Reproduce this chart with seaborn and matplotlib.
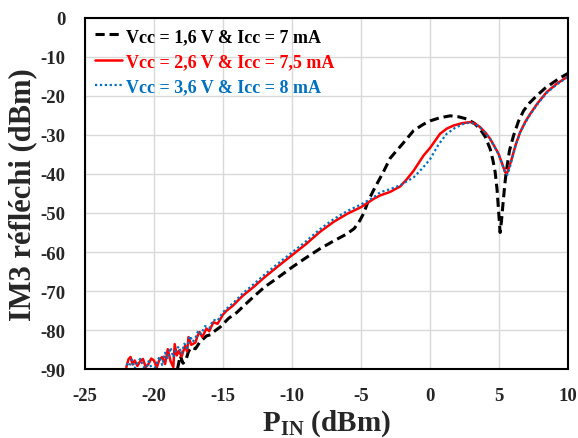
import numpy as np
import pandas as pd
import seaborn as sns
import matplotlib
matplotlib.use("Agg")
import matplotlib.pyplot as plt

# Data
x_16 = [-18.3, -18.1, -17.9, -17.7, -17.5, -17.3, -17.0, -16.7, -16.5, -16.2, -15.9, -15.7,
        -15.2, -15.0, -14.6, -14.0, -13.5, -12.8, -12.0, -11.0, -10.0, -9.0, -8.0, -7.0,
        -6.05, -5.5, -5.1, -4.8, -4.47, -4.0, -3.4, -2.9, -2.42, -2.0, -1.2, -0.5, 0.0,
        0.7, 1.45, 2.0, 2.66, 3.2, 3.62, 4.0, 4.35, 4.55, 4.71, 4.85, 4.95, 5.07, 5.17,
        5.27, 5.4, 5.51, 5.75, 6.04, 6.4, 6.77, 7.2, 7.74, 8.3, 8.94, 9.4, 9.9, 10.0]
y_16 = [-90, -86.6, -88.5, -87.8, -85.5, -84.4, -84.8, -83.2, -82.5, -81.5, -81.2, -80.5,
        -79.2, -78.5, -77, -75.5, -73.8, -71.5, -69, -66.5, -63.9, -61.5, -59.2, -57.2,
        -55.4, -54, -52, -50, -46.8, -43.5, -39.6, -36, -34, -32.3, -28.9, -27.3, -26.4,
        -25.6, -25.1, -25.3, -25.9, -27, -28.5, -30.5, -33.6, -36.5, -39.5, -44, -49, -55, -52,
        -48, -43, -39.5, -34, -30.2, -26.5, -23.8, -21.8, -19.9, -18.1, -16.5, -15.4, -14.4, -14.2]

x_26 = [-22.0, -21.85, -21.7, -21.55, -21.4, -21.2, -21.0, -20.8, -20.6, -20.4, -20.2, -20.0,
        -19.8, -19.6, -19.4, -19.2, -19.0, -18.8, -18.6, -18.5, -18.35, -18.2, -18.0, -17.75,
        -17.6, -17.5, -17.3, -17.0, -16.85, -16.7, -16.5, -16.2, -16.0, -15.7, -15.4, -15.0,
        -14.73, -14.3, -13.6, -12.8, -12.0, -11.0, -10.0, -9.0, -8.0, -7.0, -6.0, -5.0, -4.1,
        -3.62, -2.9, -2.17, -1.7, -1.2, -0.48, 0.0, 0.72, 1.2, 1.69, 2.3, 2.9, 3.3, 3.62, 4.0,
        4.35, 4.7, 4.95, 5.2, 5.43, 5.55, 5.7, 5.92, 6.2, 6.52, 6.9, 7.25, 7.8, 8.45, 9.2, 9.9, 10.0]
y_26 = [-89.5, -87.5, -86.9, -88.8, -87.8, -89.2, -88.0, -87.4, -89.5, -88.7, -87.3, -87.8,
        -89.6, -87.5, -86.9, -88.7, -84.9, -88.0, -89.5, -83.6, -86.5, -85.3, -86.8, -84.0,
        -85.5, -81.8, -83.8, -83.2, -81.5, -80.5, -81.8, -79.6, -80.3, -78.0, -78.4, -76.0,
        -75, -73.8, -71.3, -69, -66.5, -63.6, -60.8, -58, -54.9, -52.3, -50.2, -48.5, -46.4,
        -45.5, -44.6, -43.2, -41.4, -39.2, -35.3, -33.3, -29.7, -28.4, -27.6, -27, -26.7, -27.2, -28, -29.4,
        -31, -33.2, -34.8, -37.2, -39.5, -40, -38.5, -36, -32.5, -29.3, -26.6, -24.6, -21.8, -19, -16.8, -15.2, -15]

x_36 = [-22.0, -21.8, -21.6, -21.4, -21.2, -21.0, -20.8, -20.6, -20.4, -20.2, -20.0, -19.8,
        -19.6, -19.4, -19.2, -19.0, -18.8, -18.6, -18.4, -18.2, -18.0, -17.8, -17.6, -17.4,
        -17.2, -17.0, -16.8, -16.6, -16.3, -16.0, -15.7, -15.4, -15.0, -14.7, -14.3, -13.6,
        -12.8, -12.0, -11.0, -10.0, -9.0, -8.0, -7.0, -6.0, -5.0, -4.1, -3.62, -2.9, -2.17,
        -1.7, -1.2, -0.5, 0.0, 0.6, 1.2, 1.8, 2.4, 2.9, 3.3, 3.62, 4.0, 4.35, 4.7, 4.95, 5.2,
        5.43, 5.6, 5.75, 5.95, 6.2, 6.52, 6.9, 7.25, 7.8, 8.45, 9.2, 9.9, 10.0]
y_36 = [-88.6, -89.3, -87.6, -89.8, -88.3, -87.4, -89.0, -90.5, -88.0, -89.5, -90.5, -88.4,
        -86.8, -89.0, -85.8, -87.4, -84.5, -87.0, -85.0, -84.2, -86.0, -83.5, -84.6, -81.5,
        -83.0, -82.0, -80.2, -81.0, -79.0, -79.5, -77.4, -77.6, -75.4, -74.4, -73.2, -70.7,
        -68.3, -65.8, -62.9, -60.1, -57.3, -54.2, -51.6, -49.5, -47.8, -46.0, -44.7, -43.9, -42.9,
        -41.9, -40.9, -38.3, -36.2, -32.5, -29.7, -28.2, -27.2, -26.8, -27.3, -28.1, -29.5, -31.1, -33.3, -34.9, -37.3,
        -39.6, -40.2, -38.6, -36.0, -32.6, -29.4, -26.8, -24.8, -22.0, -19.2, -17.0, -15.3, -15.1]

labels = ["Vcc = 1,6 V & Icc = 7 mA", "Vcc = 2,6 V & Icc = 7,5 mA", "Vcc = 3,6 V & Icc = 8 mA"]
colors = ["black", "#FF0000", "#0070C0"]

sns.set_style("white")
plt.rcParams['font.family'] = ['Liberation Serif', 'DejaVu Serif']
plt.rcParams['font.weight'] = 'bold'
plt.rcParams['axes.unicode_minus'] = False
plt.rcParams['mathtext.fontset'] = 'custom'
plt.rcParams['mathtext.rm'] = 'Liberation Serif:bold'
plt.rcParams['mathtext.bf'] = 'Liberation Serif:bold'

fig = plt.figure(figsize=(5.78, 4.39), dpi=100)
ax = fig.add_axes([0.147, 0.157, 0.836, 0.800])

sns.lineplot(x=x_16, y=y_16, ax=ax, color=colors[0], linestyle=(0, (3, 1.6)), linewidth=2.2,
             sort=False, estimator=None, label=labels[0])
sns.lineplot(x=x_26, y=y_26, ax=ax, color=colors[1], linestyle="-", linewidth=1.8,
             sort=False, estimator=None, label=labels[1])
sns.lineplot(x=x_36, y=y_36, ax=ax, color=colors[2], linestyle=(0, (1, 1.2)), linewidth=1.6,
             sort=False, estimator=None, label=labels[2])

ax.set_xlim(-25, 10)
ax.set_ylim(-90, 0)
ax.set_xticks(np.arange(-25, 11, 5))
ax.set_yticks(np.arange(-90, 1, 10))
ax.grid(True, color="#d9d9d9", linewidth=1)
ax.set_axisbelow(True)
for s in ax.spines.values():
    s.set_color("black")
    s.set_linewidth(1.5)
ax.tick_params(axis="both", length=0, labelsize=13.5)
ax.tick_params(axis="y", pad=14)
ax.tick_params(axis="x", pad=13)
for t in ax.get_xticklabels() + ax.get_yticklabels():
    t.set_fontweight("bold")

ax.set_xlabel(r"P$_{\mathbf{IN}}$ (dBm)", fontsize=21, fontweight="bold", labelpad=2)
ax.set_ylabel("IM3 réfléchi (dBm)", fontsize=22, fontweight="bold", labelpad=2)

leg = ax.legend(loc="upper left", frameon=False, handlelength=1.5,
                handletextpad=0.2, borderaxespad=0.15, labelspacing=0.45,
                prop={"weight": "bold", "size": 13})
for txt, c in zip(leg.get_texts(), colors):
    txt.set_color(c)

fig.savefig("out.png", dpi=100)
